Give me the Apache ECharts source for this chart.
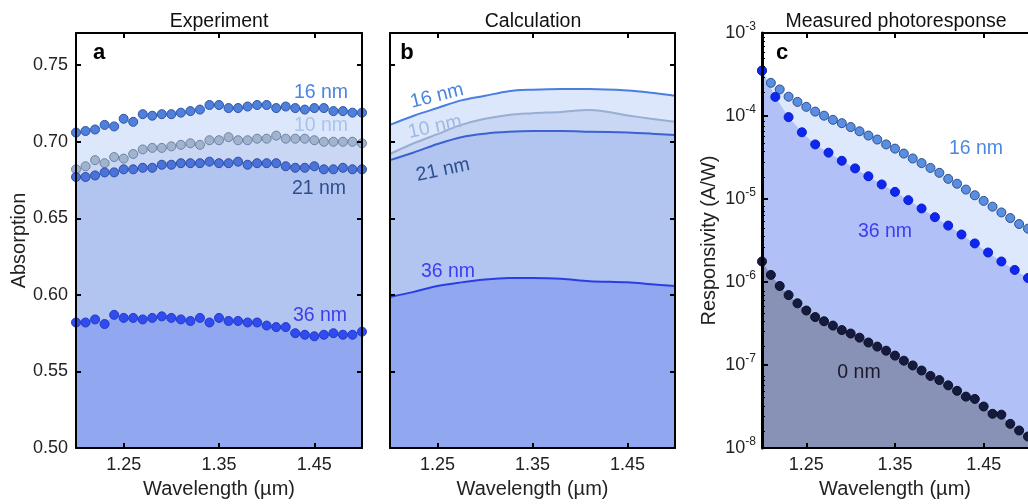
<!DOCTYPE html>
<html lang="en">
<head>
<meta charset="UTF-8">
<title>Absorption and photoresponse</title>
<script src="https://cdn.jsdelivr.net/npm/echarts@6/dist/echarts.min.js"></script>
<style>
    body { margin: 0; background: #fff; }
    #chart { width: 1028px; height: 504px; }
</style>
</head>
<body>
<div id="chart"></div>
<script>
    // panel a: measured absorption, one point every 10 nm of wavelength
    const waveExp = [1.20, 1.21, 1.22, 1.23, 1.24, 1.25, 1.26, 1.27, 1.28, 1.29, 1.30, 1.31, 1.32, 1.33, 1.34, 1.35,
        1.36, 1.37, 1.38, 1.39, 1.40, 1.41, 1.42, 1.43, 1.44, 1.45, 1.46, 1.47, 1.48, 1.49, 1.50];
    const exp16 = [0.706, 0.707, 0.708, 0.711, 0.710, 0.715, 0.713, 0.718, 0.717, 0.718, 0.718, 0.719, 0.720, 0.721, 0.724, 0.724,
        0.722, 0.722, 0.723, 0.724, 0.724, 0.722, 0.723, 0.722, 0.721, 0.722, 0.722, 0.720, 0.720, 0.719, 0.719];
    const exp10 = [0.682, 0.684, 0.688, 0.686, 0.690, 0.689, 0.692, 0.695, 0.696, 0.696, 0.697, 0.698, 0.699, 0.698, 0.701, 0.701,
        0.703, 0.701, 0.701, 0.702, 0.702, 0.704, 0.702, 0.702, 0.702, 0.701, 0.700, 0.700, 0.700, 0.700, 0.699];
    const exp21 = [0.677, 0.677, 0.678, 0.680, 0.680, 0.682, 0.682, 0.683, 0.683, 0.685, 0.685, 0.686, 0.686, 0.686, 0.687, 0.686,
        0.686, 0.687, 0.685, 0.686, 0.686, 0.686, 0.684, 0.683, 0.683, 0.684, 0.682, 0.682, 0.683, 0.682, 0.682];
    const exp36 = [0.582, 0.582, 0.584, 0.581, 0.587, 0.585, 0.585, 0.584, 0.585, 0.586, 0.585, 0.584, 0.583, 0.585, 0.582, 0.585,
        0.583, 0.583, 0.582, 0.582, 0.580, 0.579, 0.579, 0.575, 0.574, 0.573, 0.574, 0.575, 0.574, 0.574, 0.576];

    // panel b: calculated absorption
    const waveCalc = [1.20, 1.225, 1.25, 1.275, 1.30, 1.325, 1.35, 1.38, 1.41, 1.45, 1.475, 1.50];
    const calc16 = [0.711, 0.717, 0.722, 0.727, 0.730, 0.733, 0.734, 0.7345, 0.7345, 0.7335, 0.732, 0.730];
    const calc10 = [0.692, 0.699, 0.705, 0.711, 0.715, 0.7175, 0.7186, 0.7195, 0.7208, 0.7172, 0.715, 0.713];
    const calc21 = [0.688, 0.693, 0.6985, 0.703, 0.7053, 0.7065, 0.707, 0.707, 0.7066, 0.706, 0.7053, 0.7044];
    const calc36 = [0.5987, 0.602, 0.6058, 0.6082, 0.610, 0.611, 0.6111, 0.6106, 0.609, 0.6082, 0.607, 0.6058];

    // panel c: responsivity (A/W)
    const wavePR = waveExp;
    const wave36 = [1.200, 1.215, 1.230, 1.245, 1.260, 1.275, 1.290, 1.305, 1.320, 1.335, 1.350,
        1.365, 1.380, 1.395, 1.410, 1.425, 1.440, 1.455, 1.470, 1.485, 1.500];
    const resp16 = [3.52e-4, 2.51e-4, 2.09e-4, 1.71e-4, 1.48e-4, 1.29e-4, 1.13e-4, 1.01e-4, 9.0e-5, 8.2e-5, 7.36e-5,
        6.55e-5, 5.82e-5, 5.21e-5, 4.55e-5, 4.05e-5, 3.53e-5, 3.08e-5, 2.71e-5, 2.37e-5, 2.07e-5,
        1.75e-5, 1.53e-5, 1.30e-5, 1.11e-5, 9.5e-6, 8.1e-6, 6.9e-6, 5.9e-6, 5.0e-6, 4.4e-6];
    const resp36 = [3.52e-4, 1.70e-4, 9.7e-5, 6.37e-5, 4.55e-5, 3.62e-5, 2.89e-5, 2.34e-5, 1.88e-5, 1.50e-5, 1.22e-5,
        9.7e-6, 7.7e-6, 6.05e-6, 4.79e-6, 3.74e-6, 2.92e-6, 2.27e-6, 1.77e-6, 1.40e-6, 1.12e-6];
    const resp0 = [1.77e-6, 1.22e-6, 8.97e-7, 6.97e-7, 5.55e-7, 4.54e-7, 3.79e-7, 3.37e-7, 2.99e-7, 2.64e-7, 2.40e-7,
        2.14e-7, 1.87e-7, 1.67e-7, 1.49e-7, 1.30e-7, 1.13e-7, 9.9e-8, 8.6e-8, 7.4e-8, 6.6e-8,
        5.7e-8, 4.9e-8, 4.17e-8, 3.91e-8, 3.17e-8, 2.59e-8, 2.53e-8, 1.96e-8, 1.63e-8, 1.38e-8];

    const xTicks = [1.25, 1.35, 1.45];
    const FONT = 'Liberation Sans, Arial, sans-serif';

    // minor ticks of the log axis: 2..9 in each decade
    const logMinor = [];
    for (let e = -8; e < -3; e++) {
        for (let m = 2; m < 10; m++) logMinor.push(m * Math.pow(10, e));
    }

    function pairs(xs, ys) {
        return xs.map((x, i) => [x, ys[i]]);
    }

    function xAxisOf(grid, pos) {
        const bottom = pos === 'bottom';
        return {
            type: 'value', gridIndex: grid, position: pos, min: 1.2, max: 1.5, z: 5,
            axisLine: { show: true, onZero: false, lineStyle: { color: '#000', width: 2 } },
            axisTick: { show: true, inside: true, length: 5, customValues: xTicks, lineStyle: { color: '#000', width: 2 } },
            axisLabel: {
                show: bottom, customValues: xTicks, margin: 8, color: '#222', fontSize: 18, fontFamily: FONT,
                formatter: v => v.toFixed(2)
            },
            splitLine: { show: false },
            name: bottom ? 'Wavelength (µm)' : '', nameLocation: 'middle', nameGap: 26,
            nameTextStyle: { color: '#222', fontSize: 20, fontFamily: FONT }
        };
    }

    function yAxisOf(grid, pos, labels, name) {
        return {
            type: 'value', gridIndex: grid, position: pos, min: 0.5, max: 0.771, interval: 0.05, z: 5,
            axisLine: { show: true, onZero: false, lineStyle: { color: '#000', width: 2 } },
            axisTick: { show: true, inside: true, length: 5, lineStyle: { color: '#000', width: 2 } },
            axisLabel: {
                show: labels, showMaxLabel: false, margin: 8, color: '#222', fontSize: 18, fontFamily: FONT,
                formatter: v => v.toFixed(2)
            },
            splitLine: { show: false },
            name: name || '', nameLocation: 'middle', nameGap: 46,
            nameTextStyle: { color: '#222', fontSize: 20, fontFamily: FONT }
        };
    }

    function dotSeries(xi, yi, data, fill, edge, area) {
        return {
            type: 'line', xAxisIndex: xi, yAxisIndex: yi, data: data,
            symbol: 'circle', symbolSize: 9, showSymbol: true,
            itemStyle: { color: fill, borderColor: edge, borderWidth: 1 },
            lineStyle: { width: 0, opacity: 0 },
            areaStyle: { color: area, opacity: 1, origin: 'start' },
            silent: true, animation: false
        };
    }

    function curveSeries(xi, yi, data, stroke, area) {
        return {
            type: 'line', xAxisIndex: xi, yAxisIndex: yi, data: data, smooth: 0.35,
            showSymbol: false,
            lineStyle: { width: 2, color: stroke },
            areaStyle: { color: area, opacity: 1, origin: 'start' },
            silent: true, animation: false
        };
    }

    function label(text, x, y, color, rot, bold) {
        return {
            type: 'text', x: x, y: y, rotation: (rot || 0) * Math.PI / 180, z: 20,
            style: {
                text: text, fill: color, fontSize: bold ? 22 : 19.5, fontWeight: bold ? 'bold' : 'normal',
                fontFamily: FONT, align: 'center', verticalAlign: 'middle'
            }
        };
    }

    const chart = echarts.init(document.getElementById('chart'));

    const option = {
        backgroundColor: '#fff',
        animation: false,
        grid: [
            { left: 76, top: 33, width: 286, height: 424 },
            { left: 390, top: 33, width: 285, height: 424 },
            { left: 762, top: 33, width: 272, height: 424 },
            { left: 762, top: 33, width: 272, height: 424 }
        ],
        xAxis: [
            xAxisOf(0, 'bottom'), xAxisOf(0, 'top'),
            xAxisOf(1, 'bottom'), xAxisOf(1, 'top'),
            xAxisOf(2, 'bottom'), xAxisOf(2, 'top'),
            { type: 'value', gridIndex: 3, min: 1.2, max: 1.5, show: false }
        ],
        yAxis: [
            yAxisOf(0, 'left', true, 'Absorption'), yAxisOf(0, 'right', false),
            yAxisOf(1, 'left', false), yAxisOf(1, 'right', false),
            {
                type: 'log', logBase: 10, gridIndex: 2, position: 'left', min: 1e-8, max: 1e-3, z: 5,
                axisLine: { show: true, onZero: false, lineStyle: { color: '#000', width: 3 } },
                axisTick: { show: true, inside: true, length: 6, lineStyle: { color: '#000', width: 2 } },
                minorTick: { show: false },
                axisLabel: {
                    margin: 6, color: '#222', fontSize: 18, fontFamily: FONT,
                    formatter: v => '10{s|' + Math.round(Math.log10(v)) + '}',
                    rich: { s: { fontSize: 12, fontFamily: FONT, color: '#222', verticalAlign: 'top', lineHeight: 12 } },
                    lineHeight: 24
                },
                splitLine: { show: false },
                name: 'Responsivity (A/W)', nameLocation: 'middle', nameGap: 43,
                nameTextStyle: { color: '#222', fontSize: 20, fontFamily: FONT }
            },
            {
                type: 'log', logBase: 10, gridIndex: 3, position: 'left', min: 1e-8, max: 1e-3, z: 6,
                axisLine: { show: false },
                axisTick: { show: true, inside: true, length: 3, customValues: logMinor, lineStyle: { color: '#000', width: 1 } },
                axisLabel: { show: false },
                splitLine: { show: false }
            }
        ],
        series: [
            // a
            dotSeries(0, 0, pairs(waveExp, exp16), '#4f80dc', '#2c53a8', '#dce7fb'),
            dotSeries(0, 0, pairs(waveExp, exp10), '#a2b4cd', '#6c83a6', '#c9d7f4'),
            dotSeries(0, 0, pairs(waveExp, exp21), '#4a72d8', '#2a4ca6', '#b2c5f1'),
            dotSeries(0, 0, pairs(waveExp, exp36), '#2f4cf0', '#2438c8', '#91a8f1'),
            // b
            curveSeries(2, 2, pairs(waveCalc, calc16), '#4a7fe0', '#dce7fb'),
            curveSeries(2, 2, pairs(waveCalc, calc10), '#98aed2', '#c9d7f4'),
            curveSeries(2, 2, pairs(waveCalc, calc21), '#3a62d2', '#b2c5f1'),
            curveSeries(2, 2, pairs(waveCalc, calc36), '#2a3ee6', '#91a8f1'),
            // c
            dotSeries(4, 4, pairs(wavePR, resp16), '#5a8ee0', '#2d4f90', '#dde8fc'),
            dotSeries(4, 4, pairs(wave36, resp36), '#0d26f2', '#0d1fc8', '#b1c1f8'),
            dotSeries(4, 4, pairs(wavePR, resp0), '#151b3d', '#0c1028', '#8891b6')
        ],
        graphic: [
            label('Experiment', 219, 22, '#111'),
            label('Calculation', 533, 22, '#111'),
            label('Measured photoresponse', 896, 22, '#111'),
            label('a', 99, 53, '#000', 0, true),
            label('b', 407, 53, '#000', 0, true),
            label('c', 782, 53, '#000', 0, true),
            label('16 nm', 321, 93, '#4a84e0'),
            label('10 nm', 321, 126, '#a8c3ee'),
            label('21 nm', 319, 189, '#2e4f8e'),
            label('36 nm', 320, 316, '#3a3ef0'),
            label('16 nm', 437, 96, '#4a84e0', 14),
            label('10 nm', 435, 127, '#a0b9e2', 12),
            label('21 nm', 443, 170, '#2e4f8e', 12),
            label('36 nm', 448, 272, '#3a3ef0'),
            label('16 nm', 976, 149, '#4d88e0'),
            label('36 nm', 885, 232, '#3a3ef0'),
            label('0 nm', 859, 373, '#1a1a2a')
        ]
    };

    chart.setOption(option);
</script>
</body>
</html>
